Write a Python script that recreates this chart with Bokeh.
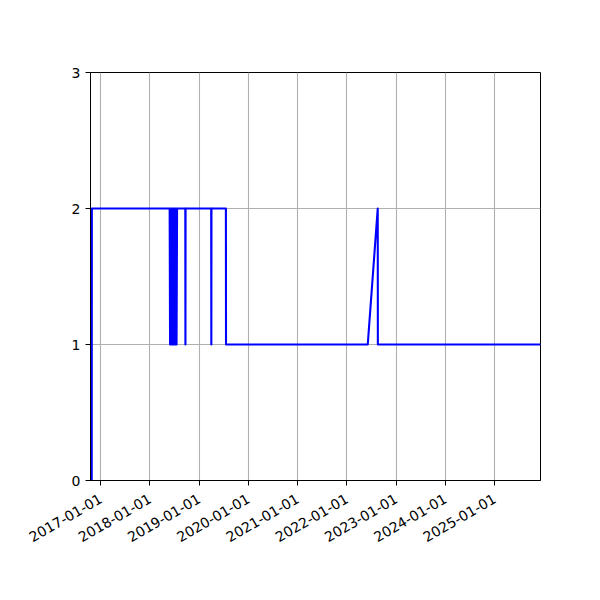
import math
from datetime import datetime

from bokeh.embed import file_html
from bokeh.models import (ColumnDataSource, DatetimeTickFormatter,
                          FixedTicker, Range1d)
from bokeh.plotting import figure
from bokeh.resources import INLINE

# points
dates = ["2016-10-26", "2016-10-27",
         "2018-05-27", "2018-05-30", "2018-06-02", "2018-06-05",
         "2018-06-08", "2018-06-11", "2018-06-14", "2018-06-17",
         "2018-06-20", "2018-06-23", "2018-06-26", "2018-06-29",
         "2018-07-02", "2018-07-05", "2018-07-08", "2018-07-11",
         "2018-07-14", "2018-07-17", "2018-07-21",
         "2018-09-20", "2018-09-21", "2018-09-22",
         "2019-03-31", "2019-04-01", "2019-04-02",
         "2019-07-18", "2019-07-19",
         "2022-06-04", "2022-08-17", "2022-08-18",
         "2025-12-06"]
counts = [0, 2,
          2, 1, 2, 1,
          2, 1, 2, 1,
          2, 1, 2, 1,
          2, 1, 2, 1,
          2, 1, 2,
          2, 1, 2,
          2, 1, 2,
          2, 1,
          1, 2, 1,
          1]
tick_years = [2017, 2018, 2019, 2020, 2021, 2022, 2023, 2024, 2025]
y_ticks = [0, 1, 2, 3]
x_start = "2016-10-17"
x_end = "2025-12-06"


def to_ms(d: datetime) -> float:
    return (d - datetime(1970, 1, 1)).total_seconds() * 1000


def plot():
    parsed = [datetime.strptime(d, "%Y-%m-%d") for d in dates]
    source = ColumnDataSource(data=dict(x=parsed, y=counts))

    p = figure(width=584, height=584,
               x_axis_type="datetime",
               x_range=Range1d(datetime.strptime(x_start, "%Y-%m-%d"),
                               datetime.strptime(x_end, "%Y-%m-%d")),
               y_range=Range1d(0, 3),
               output_backend="svg",
               toolbar_location=None,
               min_border_left=90, min_border_right=44,
               min_border_top=72, min_border_bottom=104)

    p.line("x", "y", source=source, line_color="blue",
           line_width=2.1, line_join="round")

    fmt = "%Y-%m-%d"
    p.xaxis.ticker = FixedTicker(
        ticks=[to_ms(datetime(y, 1, 1)) for y in tick_years])
    p.xaxis.formatter = DatetimeTickFormatter(
        milliseconds=fmt, seconds=fmt, minsec=fmt, minutes=fmt,
        hourmin=fmt, hours=fmt, days=fmt, months=fmt, years=fmt)
    p.xaxis.major_label_orientation = math.pi / 6
    p.yaxis.ticker = FixedTicker(ticks=y_ticks)

    for ax in (p.xaxis, p.yaxis):
        ax.major_label_text_font = "DejaVu Sans"
        ax.major_label_text_font_size = "14px"
        ax.major_label_text_color = "black"
        ax.axis_line_color = "black"
        ax.major_tick_line_color = "black"
        ax.major_tick_in = 0
        ax.major_tick_out = 5
        ax.minor_tick_line_color = None
        ax.major_label_standoff = 5

    p.xaxis.major_label_standoff = 12

    for g in (p.xgrid, p.ygrid):
        g.grid_line_color = "#b0b0b0"
        g.grid_line_width = 1.1

    p.outline_line_color = "black"
    p.outline_line_alpha = 1.0
    p.outline_line_width = 1
    p.background_fill_color = "white"
    p.border_fill_color = "white"

    open("out.html", "w").write(file_html(p, INLINE))


plot()
